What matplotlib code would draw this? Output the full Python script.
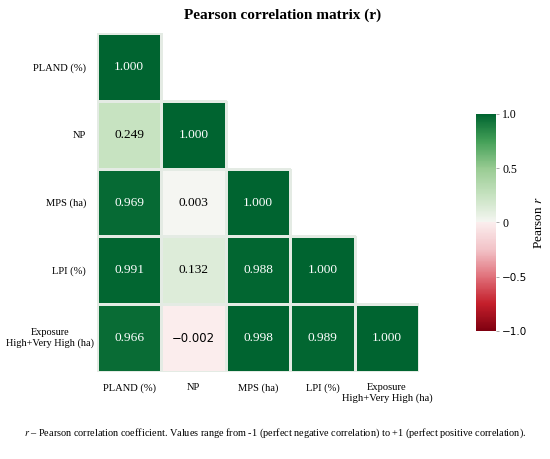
import numpy as np
import matplotlib
matplotlib.use("Agg")
import matplotlib.pyplot as plt
from matplotlib.colors import LinearSegmentedColormap, ListedColormap, to_rgba
from matplotlib.transforms import blended_transform_factory, ScaledTranslation

plt.rcParams['font.family'] = ['Liberation Serif', 'DejaVu Serif']
plt.rcParams['mathtext.fontset'] = 'stix'

labels = ["PLAND (%)", "NP", "MPS (ha)", "LPI (%)", "Exposure\nHigh+Very High (ha)"]
corr = np.array([
    [1.000, 0.249, 0.969, 0.991, 0.966],
    [0.249, 1.000, 0.003, 0.132, -0.002],
    [0.969, 0.003, 1.000, 0.988, 0.998],
    [0.991, 0.132, 0.988, 1.000, 0.989],
    [0.966, -0.002, 0.998, 0.989, 1.000],
])
cbar_ticks = [-1.0, -0.5, 0, 0.5, 1.0]
cbar_ticklabels = ["\u22121.0", "\u22120.5", "0", "0.5", "1.0"]

red_half = LinearSegmentedColormap.from_list(
    "r", ["#7f0010", "#c41f2b", "#e0707a", "#f2c2c7", "#fbeded"])
green_half = LinearSegmentedColormap.from_list(
    "g", ["#f5f6f2", "#c6e2c0", "#98cb92", "#44a058", "#006430"])
cmap = ListedColormap(np.vstack([red_half(np.linspace(0, 1, 128)),
                                 green_half(np.linspace(0, 1, 128))]))

n = len(labels)
mask = np.triu(np.ones((n, n), dtype=bool), k=1)
data = np.ma.array(corr, mask=mask)

fig = plt.figure(figsize=(5.5, 4.59), dpi=100)
ax = fig.add_axes([0.1764, 0.1895, 0.5855, 0.7386])
mesh = ax.pcolormesh(np.arange(n + 1), np.arange(n + 1), data, cmap=cmap,
                     vmin=-1, vmax=1, linewidth=0.8)
edge = np.array([to_rgba('#e4ebe4', 0.0) if m else to_rgba('#e4ebe4', 1.0)
                 for m in mask.ravel()])
mesh.set_edgecolor(edge)
ax.set_xlim(0, n)
ax.set_ylim(n, 0)
for s in ax.spines.values():
    s.set_visible(False)

for i in range(n):
    for j in range(n):
        if mask[i, j]:
            continue
        v = corr[i, j]
        col = 'white' if abs(v) > 0.5 else 'black'
        if v < 0:
            txt = "\u2212" + f"{abs(v):.3f}"
            ax.text(j + 0.5, i + 0.5, txt, ha='center', va='center', color=col,
                    fontsize=8.4, family=['DejaVu Sans'])
        else:
            ax.text(j + 0.5, i + 0.5, f"{v:.3f}", ha='center', va='center',
                    color=col, fontsize=9.6)

ax.set_xticks(np.arange(n) + 0.5)
ax.set_yticks(np.arange(n) + 0.5)
ax.set_xticklabels(labels, fontsize=7.6)
ylabs = labels[:-1] + [""]
ax.set_yticklabels(ylabs, fontsize=7.6)
for t in ax.get_xticklabels():
    t.set_multialignment('center')
ax.tick_params(axis='y', length=0, pad=8)
ax.tick_params(axis='x', length=0, pad=8)
# last y label, placed closer to the cells as in the reference
tr = blended_transform_factory(ax.transAxes, ax.transData) + \
    ScaledTranslation(-2 / 72, 0, fig.dpi_scale_trans)
ax.text(0, n - 0.5, labels[-1], transform=tr, ha='right', va='center',
        multialignment='center', fontsize=7.4)

cax = fig.add_axes([0.8655, 0.279, 0.0363, 0.4727])
cb = fig.colorbar(mesh, cax=cax, ticks=cbar_ticks)
cb.outline.set_visible(False)
cb.ax.tick_params(length=2.5, width=0.5, color='#888888', labelsize=8.5, pad=2)
cb.ax.set_yticklabels(cbar_ticklabels)
for t, lab in zip(cb.ax.get_yticklabels(), cbar_ticklabels):
    if lab.startswith("\u2212"):
        t.set_family(['DejaVu Sans'])
        t.set_fontsize(7.5)
cb.set_label("Pearson $r$", fontsize=9.5, labelpad=4)

fig.text(0.513, 0.967, "Pearson correlation matrix (r)", ha='center', va='center',
         fontsize=11, fontweight='bold')
fig.text(0.5, 0.0566,
         "$r$ \u2013 Pearson correlation coefficient. Values range from -1 (perfect negative correlation) to +1 (perfect positive correlation).",
         ha='center', va='center', fontsize=7.4)

fig.savefig("out.png", dpi=100)
